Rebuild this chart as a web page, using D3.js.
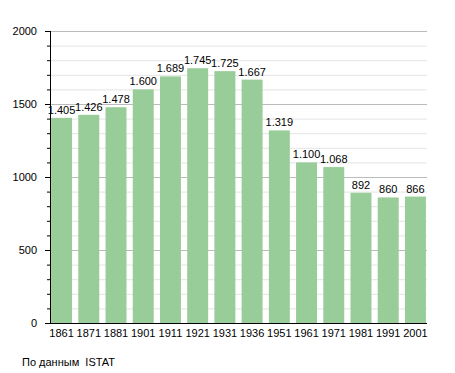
<!DOCTYPE html>
<html>
<head>
<meta charset="utf-8">
<script src="https://cdn.jsdelivr.net/npm/d3@7"></script>
<style>
	body { margin: 0; background: #fff; }
	text { font-family: "Liberation Sans", Arial, sans-serif; fill: #000; }
</style>
</head>
<body>
<svg id="chart" width="455" height="373"></svg>
<script>
// population by census year
var years = ['1861', '1871', '1881', '1901', '1911', '1921', '1931', '1936', '1951', '1961', '1971', '1981', '1991', '2001'];
var population = [1405, 1426, 1478, 1600, 1689, 1745, 1725, 1667, 1319, 1100, 1068, 892, 860, 866];
var yTicks = [0, 500, 1000, 1500, 2000];

var svg = d3.select('#chart');
var mLeft = 50, mRight = 427, mTop = 31, mBottom = 323;

var x = d3.scaleBand().domain(years).range([mLeft, mRight]).paddingInner(0.23).paddingOuter(0.04);
var y = d3.scaleLinear().domain([0, 2000]).range([mBottom, mTop]);

var fmt = function(v) { return d3.format(',')(v).replace(/,/g, '.'); };

// minor grid every 100
svg.append('g').selectAll('line')
	.data(d3.range(100, 2001, 100).filter(d => d % 500 !== 0))
	.enter().append('line')
	.attr('x1', mLeft).attr('x2', mRight)
	.attr('y1', d => y(d) + 0.5).attr('y2', d => y(d) + 0.5)
	.attr('stroke', '#e4e4e4');

// major grid
svg.append('g').selectAll('line')
	.data(yTicks.slice(1))
	.enter().append('line')
	.attr('x1', mLeft).attr('x2', mRight)
	.attr('y1', d => y(d) + 0.5).attr('y2', d => y(d) + 0.5)
	.attr('stroke', '#bbbbbb');

svg.append('g').selectAll('rect')
	.data(population)
	.enter().append('rect')
	.attr('x', (d, i) => x(years[i]))
	.attr('width', x.bandwidth())
	.attr('y', d => y(d))
	.attr('height', d => y(0) - y(d))
	.attr('fill', '#98cc98');

svg.append('g').selectAll('text')
	.data(population)
	.enter().append('text')
	.attr('x', (d, i) => x(years[i]) + x.bandwidth() / 2)
	.attr('y', d => y(d) - 4)
	.attr('text-anchor', 'middle')
	.attr('font-size', 11)
	.text(d => fmt(d));

// y axis with minor ticks
svg.append('g').selectAll('line')
	.data(d3.range(0, 2001, 100))
	.enter().append('line')
	.attr('x1', d => d % 500 === 0 ? mLeft - 5 : mLeft - 3).attr('x2', mLeft)
	.attr('y1', d => y(d) + 0.5).attr('y2', d => y(d) + 0.5)
	.attr('stroke', '#000');

svg.append('line')
	.attr('x1', mLeft + 0.5).attr('x2', mLeft + 0.5)
	.attr('y1', mTop).attr('y2', mBottom + 1)
	.attr('stroke', '#000');

svg.append('g').selectAll('text')
	.data(yTicks)
	.enter().append('text')
	.attr('x', mLeft - 13)
	.attr('y', d => y(d) + 4)
	.attr('text-anchor', 'end')
	.attr('font-size', 11)
	.text(d => d);

// x axis
svg.append('line')
	.attr('x1', mLeft).attr('x2', mRight)
	.attr('y1', mBottom + 0.5).attr('y2', mBottom + 0.5)
	.attr('stroke', '#000');

svg.append('g').selectAll('text')
	.data(years)
	.enter().append('text')
	.attr('x', d => x(d) + x.bandwidth() / 2)
	.attr('y', mBottom + 14)
	.attr('text-anchor', 'middle')
	.attr('font-size', 11)
	.text(d => d);

svg.append('text')
	.attr('x', 22).attr('y', 366)
	.attr('font-size', 11)
	.attr('xml:space', 'preserve')
	.text('По данным  ISTAT');
</script>
</body>
</html>
